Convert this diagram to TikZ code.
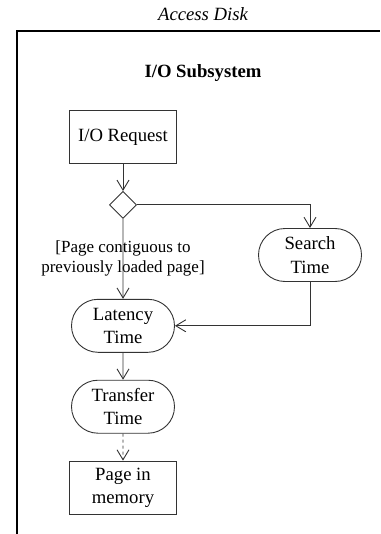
\documentclass[tikz,border=0pt]{standalone}
\usepackage{fontspec}
\setmainfont{Liberation Serif}
\usepackage{tikz}
\usetikzlibrary{shapes, arrows.meta, positioning}

\begin{document}
\begin{tikzpicture}[x=1pt, y=1pt,
	font=\fontsize{18.7}{23.5}\selectfont,
	flowline/.style={draw=black!80, line width=0.9pt,
		-{Straight Barb[length=10pt, width=12pt, line width=0.9pt]}},
	actbox/.style={draw=black!80, line width=0.9pt, rectangle,
		minimum width=107pt, minimum height=53pt, align=center, inner sep=2pt},
	actround/.style={draw=black!80, line width=0.9pt, rounded rectangle,
		minimum width=107pt, minimum height=53pt, align=center, inner sep=2pt}]
	\useasboundingbox (0,0) rectangle (380,-534);
	% Frame
	\draw[line width=1.4pt] (17,-534) -- (17,-31) -- (380,-31);
	\node (disk) at (203,-14) {\itshape Access Disk};
	\node (subsys) at (203,-73) {\bfseries I/O Subsystem};
	% Request block
	\node[actbox] (req) at (123,-137) {I/O Request};
	% Decision
	\node[draw=black!80, line width=0.9pt,
	diamond,
	inner sep=0pt,
	minimum width=27pt,
	minimum height=27pt,
	below=27pt of req] (dec) {};
	% Activities
	\node[actround,
	below=80pt of dec] (lat) {Latency\\Time};
	\node[actround] (srch) at (310,-255) {Search\\Time};
	\node[actround,
	below=27pt of lat] (trn) {Transfer\\Time};
	\node[actbox,
	below=27pt of trn] (mem) {Page in\\memory};
	% Guard
	\node[align=center, font=\fontsize{17}{20}\selectfont] (guard) at (123,-258) {[Page contiguous to\\previously loaded page]};
	% Arrows
	\draw[flowline] (req) -- (dec);
	\draw[flowline] (dec.east) -| (srch.north);
	\draw[flowline] (dec) -- (lat);
	\draw[flowline] (srch.south) |- (lat.east);
	\draw[flowline] (lat) -- (trn);
	\draw[flowline, dashed] (trn) -- (mem);
\end{tikzpicture}
\end{document}
